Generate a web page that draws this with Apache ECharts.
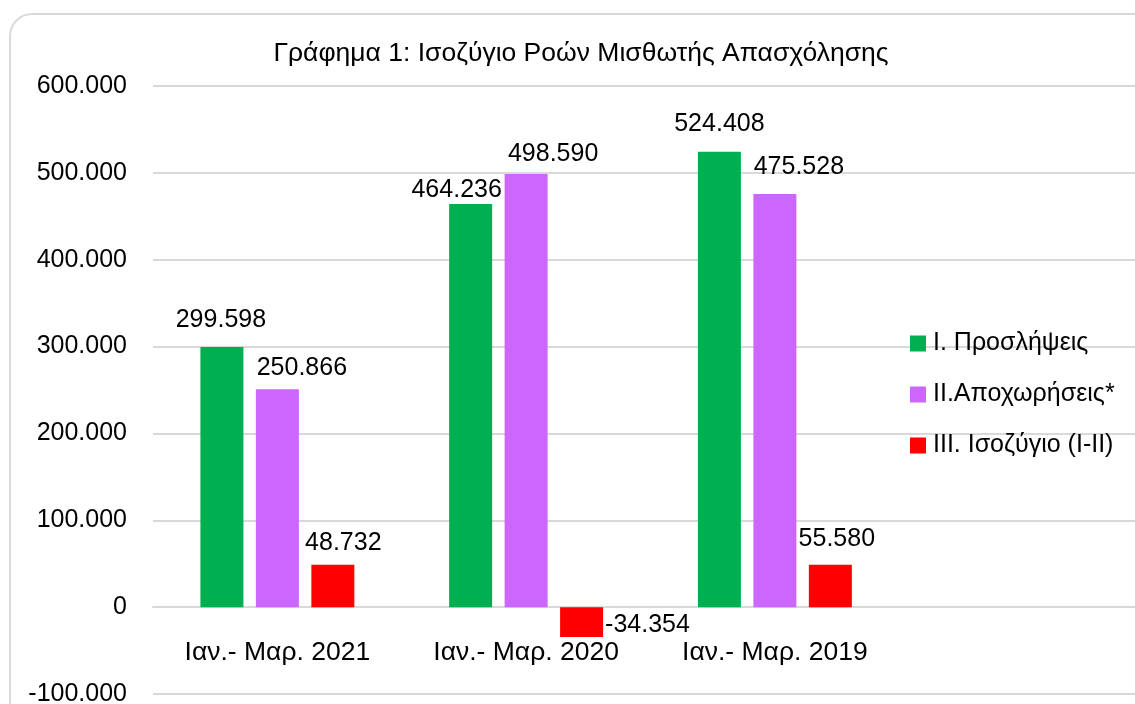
<!DOCTYPE html>
<html>
<head>
<meta charset="utf-8">
<script src="https://cdn.jsdelivr.net/npm/echarts@6/dist/echarts.min.js"></script>
<style>
  html, body { margin: 0; padding: 0; background: #ffffff; }
  #chart { width: 1135px; height: 704px; }
</style>
</head>
<body>
<div id="chart"></div>
<script>
// ---- Data ----
const titleText = 'Γράφημα 1: Ισοζύγιο Ροών Μισθωτής Απασχόλησης';
const categories = ['Ιαν.- Μαρ. 2021', 'Ιαν.- Μαρ. 2020', 'Ιαν.- Μαρ. 2019'];
const seriesNames = ['I. Προσλήψεις', 'II.Αποχωρήσεις*', 'III. Ισοζύγιο (I-II)'];
const hires = [299598, 464236, 524408];
const separations = [250866, 498590, 475528];
const balance = [48732, -34354, 48880];           // bar heights as drawn
const balanceLabels = ['48.732', '-34.354', '55.580']; // label texts as printed
const yTicks = [-100000, 0, 100000, 200000, 300000, 400000, 500000, 600000];

// ---- Styling (label nudges, not data) ----
const FONT = 'Liberation Sans';
const FS = 25;
const hiresOffsets = [[-1, -9.5], [-14, 3.5], [0, -10.5]];
const sepOffsets = [[24.5, -4], [27, -2], [24, -10]];
const balOffsets = [[10.5, -4], [0, 3], [6.5, -8]];

function fmt(v) {
  const s = Math.abs(Math.round(v)).toString().replace(/\B(?=(\d{3})+(?!\d))/g, '.');
  return (v < 0 ? '-' : '') + s;
}

function buildData(values, offsets, labelTexts) {
  return values.map((v, i) => {
    const neg = v < 0;
    const item = {
      value: v,
      label: {
        show: true,
        position: neg ? 'right' : 'top',
        distance: neg ? 2 : 5,
        offset: offsets[i]
      }
    };
    if (labelTexts) item.label.formatter = labelTexts[i];
    return item;
  });
}

const colors = ['#00b050', '#cc66ff', '#ff0000'];
const chart = echarts.init(document.getElementById('chart'), null, { renderer: 'canvas' });

const labelStyle = { color: '#000', fontFamily: FONT, fontSize: FS, formatter: p => fmt(p.value) };

const option = {
  backgroundColor: '#ffffff',
  animation: false,
  textStyle: { fontFamily: FONT },
  graphic: [{
    type: 'rect',
    shape: { x: 10, y: 14, width: 1160, height: 730, r: 22 },
    style: { fill: 'none', stroke: '#d9d9d9', lineWidth: 2 },
    silent: true,
    z: -1
  }],
  title: {
    text: titleText,
    left: 576,
    top: 35,
    textAlign: 'center',
    textStyle: { fontFamily: FONT, fontSize: 26.5, fontWeight: 'normal', color: '#000' }
  },
  legend: {
    orient: 'vertical',
    left: 905,
    top: 326,
    itemWidth: 16,
    itemHeight: 16,
    itemGap: 26,
    icon: 'rect',
    textStyle: { fontFamily: FONT, fontSize: FS, color: '#000', padding: [0, 0, 0, 2] },
    data: seriesNames
  },
  grid: { left: 153, right: -13, top: 86, bottom: 10, containLabel: false, outerBoundsMode: 'none' },
  xAxis: {
    type: 'category',
    data: categories.concat(['']),
    axisLine: { onZero: true, lineStyle: { color: '#d9d9d9', width: 2 } },
    axisTick: { show: false },
    axisLabel: { color: '#000', fontFamily: FONT, fontSize: 26.5, margin: -55, interval: 0 },
    splitLine: { show: false }
  },
  yAxis: {
    type: 'value',
    min: yTicks[0],
    max: yTicks[yTicks.length - 1],
    interval: 100000,
    axisLine: { show: false },
    axisTick: { show: false },
    axisLabel: { color: '#000', fontFamily: FONT, fontSize: FS, margin: 26, formatter: v => fmt(v) },
    splitLine: { lineStyle: { color: '#d9d9d9', width: 2 } }
  },
  series: [
    {
      name: seriesNames[0], type: 'bar', barWidth: 43, barGap: '29%',
      itemStyle: { color: colors[0] },
      label: labelStyle,
      data: buildData(hires, hiresOffsets)
    },
    {
      name: seriesNames[1], type: 'bar', barWidth: 43, barGap: '29%',
      itemStyle: { color: colors[1] },
      label: labelStyle,
      data: buildData(separations, sepOffsets)
    },
    {
      name: seriesNames[2], type: 'bar', barWidth: 43, barGap: '29%',
      itemStyle: { color: colors[2] },
      label: labelStyle,
      data: buildData(balance, balOffsets, balanceLabels)
    }
  ]
};
chart.setOption(option);
</script>
</body>
</html>
